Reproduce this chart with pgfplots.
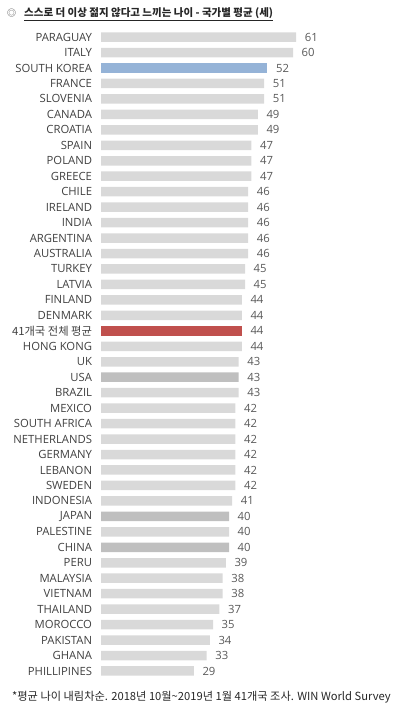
\documentclass[border=0pt]{standalone}
\usepackage{fontspec}
\setmainfont{Open Sans}
\newfontfamily\cjk{Noto Sans CJK KR}
\usepackage{pgfplots}
\pgfplotsset{compat=1.18}
\usepackage{pgfplotstable}
\definecolor{lgrey}{HTML}{D9D9D9}
\definecolor{dgrey}{HTML}{BFBFBF}
\definecolor{kblue}{HTML}{95B3D7}
\definecolor{avred}{HTML}{C0504D}
\definecolor{labtxt}{HTML}{404040}
\definecolor{valtxt}{HTML}{595959}

% y = row position (41 = top), v = value
\pgfplotstableread{
y v
41 61
40 60
38 51
37 51
36 49
35 49
34 47
33 47
32 47
31 46
30 46
29 46
28 46
27 46
26 45
25 45
24 44
23 44
21 44
20 43
18 43
17 42
16 42
15 42
14 42
13 42
12 42
11 41
9 40
7 39
6 38
5 38
4 37
3 35
2 34
1 33
0 29
}\greydata
\pgfplotstableread{
y v
19 43
10 40
8 40
}\darkdata
\pgfplotstableread{
y v
39 52
}\koreadata
\pgfplotstableread{
y v
22 44
}\avgdata

\begin{document}
\begin{tikzpicture}[x=1pt,y=1pt]
\useasboundingbox (0,0) rectangle (399,707);
\begin{axis}[
  at={(101pt,28.27pt)}, anchor=south west,
  scale only axis, width=298pt, height=649.4pt,
  xmin=0, xmax=93.125, ymin=-0.5, ymax=41.5,
  clip=false,
  /pgf/number format/assume math mode=true,
  axis line style={draw=none},
  tick style={draw=none},
  xtick=\empty,
  ytick={0,...,41},
  yticklabels={PHILLIPINES,GHANA,PAKISTAN,MOROCCO,THAILAND,VIETNAM,MALAYSIA,PERU,CHINA,PALESTINE,JAPAN,INDONESIA,SWEDEN,LEBANON,GERMANY,NETHERLANDS,SOUTH AFRICA,MEXICO,BRAZIL,USA,UK,HONG KONG,{\cjk 41개국 전체 평균},DENMARK,FINLAND,LATVIA,TURKEY,AUSTRALIA,ARGENTINA,INDIA,IRELAND,CHILE,GREECE,POLAND,SPAIN,CROATIA,CANADA,SLOVENIA,FRANCE,SOUTH KOREA,ITALY,PARAGUAY},
  yticklabel style={font=\fontsize{11.3}{12}\selectfont, text=labtxt, anchor=east, inner sep=0pt, xshift=-4.5pt},
  xbar, bar width=9.5pt, bar shift=0pt,
  nodes near coords,
  every node near coord/.append style={anchor=west, inner sep=0pt, xshift=8.5pt, font=\fontsize{11.3}{12}\selectfont, text=valtxt},
]
\addplot[fill=lgrey, draw=none] table[x=v,y=y] {\greydata};
\addplot[fill=dgrey, draw=none] table[x=v,y=y] {\darkdata};
\addplot[fill=kblue, draw=none] table[x=v,y=y] {\koreadata};
\addplot[fill=avred, draw=none] table[x=v,y=y] {\avgdata};
\end{axis}
\node[anchor=west, inner sep=0pt, font=\cjk\fontsize{9}{10}\selectfont, text=black!75] at (7,694) {◎};
\node[anchor=base west, inner sep=0pt, font=\cjk\bfseries\fontsize{10.5}{12}\selectfont, text=black!85] at (24,690) {\underline{스스로 더 이상 젊지 않다고 느끼는 나이 - 국가별 평균 (세)}};
\node[anchor=west, inner sep=0pt, font=\cjk\fontsize{11.2}{12}\selectfont, text=black!85] at (12,10) {*평균 나이 내림차순. 2018년 10월\textasciitilde 2019년 1월 41개국 조사. WIN World Survey};
\end{tikzpicture}
\end{document}
